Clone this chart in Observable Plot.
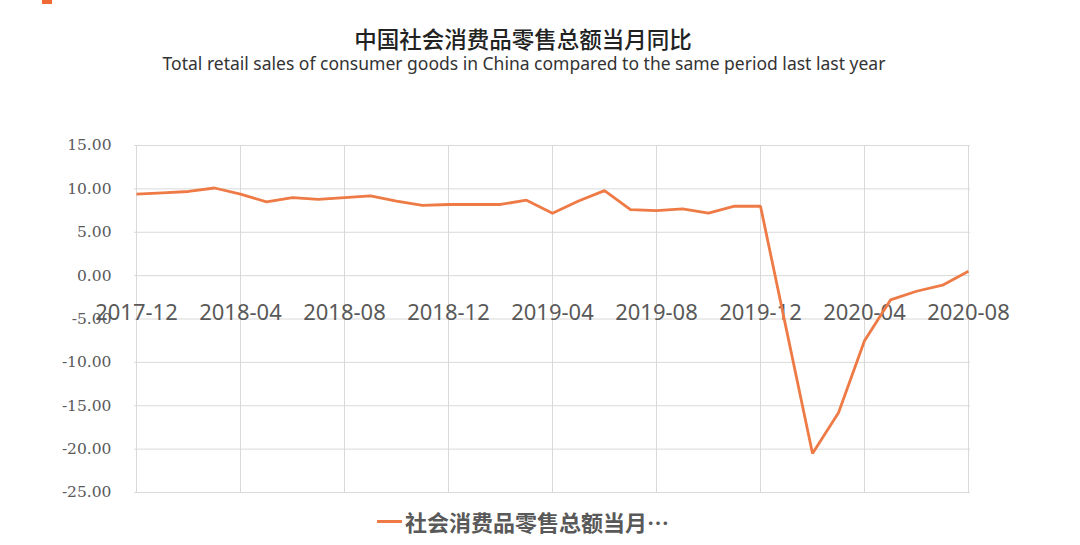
<!DOCTYPE html>
<html>
<head>
<meta charset="utf-8">
<script src="https://cdn.jsdelivr.net/npm/d3@7"></script>
<script src="https://cdn.jsdelivr.net/npm/@observablehq/plot@0.6"></script>
<style>
  html, body { margin: 0; padding: 0; background: #fff; }
  #wrap { position: relative; width: 1080px; height: 545px; overflow: hidden; background: #fff; }
  #mark { position: absolute; left: 42px; top: 0; width: 10px; height: 4px; background: #f06a35; }
  #title { position: absolute; left: 0; width: 1046px; top: 26px; text-align: center;
    font-family: "Noto Sans CJK SC", "Noto Sans", sans-serif; font-size: 22.5px; font-weight: 500; color: #222; line-height: 25px; }
  #subtitle { position: absolute; left: 0; width: 1048px; top: 52px; text-align: center;
    font-family: "Noto Sans", "Open Sans", sans-serif; font-size: 17.5px; color: #333; line-height: 22px; }
  #chart { position: absolute; left: 0; top: 100px; }
  #legend { position: absolute; left: 0; top: 506px; width: 1080px; height: 30px; }
  #legend .sw { position: absolute; left: 377px; top: 14px; width: 25px; height: 3px; background: #ee7a45; }
  #legend .lb { position: absolute; left: 405px; top: 0; font-family: "Noto Sans CJK SC", sans-serif;
    font-size: 22px; font-weight: 700; color: #595959; line-height: 30px; white-space: nowrap; }
</style>
</head>
<body>
<div id="wrap">
  <div id="mark"></div>
  <div id="title">中国社会消费品零售总额当月同比</div>
  <div id="subtitle">Total retail sales of consumer goods in China compared to the same period last last year</div>
  <div id="chart"></div>
  <div id="legend"><div class="sw"></div><div class="lb">社会消费品零售总额当月…</div></div>
</div>
<script>
const months = [
  "2017-12","2018-01","2018-02","2018-03","2018-04","2018-05","2018-06","2018-07","2018-08",
  "2018-09","2018-10","2018-11","2018-12","2019-01","2019-02","2019-03","2019-04","2019-05",
  "2019-06","2019-07","2019-08","2019-09","2019-10","2019-11","2019-12","2020-01","2020-02",
  "2020-03","2020-04","2020-05","2020-06","2020-07","2020-08"
];
const values = [
  9.4, 9.55, 9.7, 10.1, 9.4, 8.5, 9.0, 8.8, 9.0,
  9.2, 8.6, 8.1, 8.2, 8.2, 8.2, 8.7, 7.2, 8.6,
  9.8, 7.6, 7.5, 7.7, 7.2, 8.0, 8.0, -6.25, -20.5,
  -15.8, -7.5, -2.8, -1.8, -1.1, 0.5
];
const tickMonths = ["2017-12","2018-04","2018-08","2018-12","2019-04","2019-08","2019-12","2020-04","2020-08"];
const yTicks = [-25, -20, -15, -10, -5, 0, 5, 10, 15];

const data = months.map((m, i) => ({month: m, value: values[i]}));

const chart = Plot.plot({
  width: 1080,
  height: 410,
  marginLeft: 134,
  marginRight: 110,
  marginTop: 45,
  marginBottom: 18,
  x: {type: "point", domain: months, padding: 0, axis: null},
  y: {domain: [-25, 15], axis: null},
  style: {background: "#fff"},
  marks: [
    Plot.ruleY(yTicks, {stroke: "#d9d9d9", strokeWidth: 1}),
    Plot.ruleX(tickMonths, {stroke: "#d9d9d9", strokeWidth: 1}),
    Plot.axisY(yTicks, {tickSize: 0, tickPadding: 23, tickFormat: d => d.toFixed(2),
      fontFamily: "DejaVu Serif", fontSize: 15.5, fill: "#595959", label: null}),
    Plot.text(tickMonths, {x: d => d, y: 0, dy: 37, text: d => d,
      fontFamily: "Noto Sans", fontSize: 22, fill: "#595959"}),
    Plot.line(data, {x: "month", y: "value", stroke: "#ee7a45", strokeWidth: 2.8,
      strokeLinejoin: "miter", strokeLinecap: "butt"})
  ]
});
document.getElementById("chart").appendChild(chart);
</script>
</body>
</html>
